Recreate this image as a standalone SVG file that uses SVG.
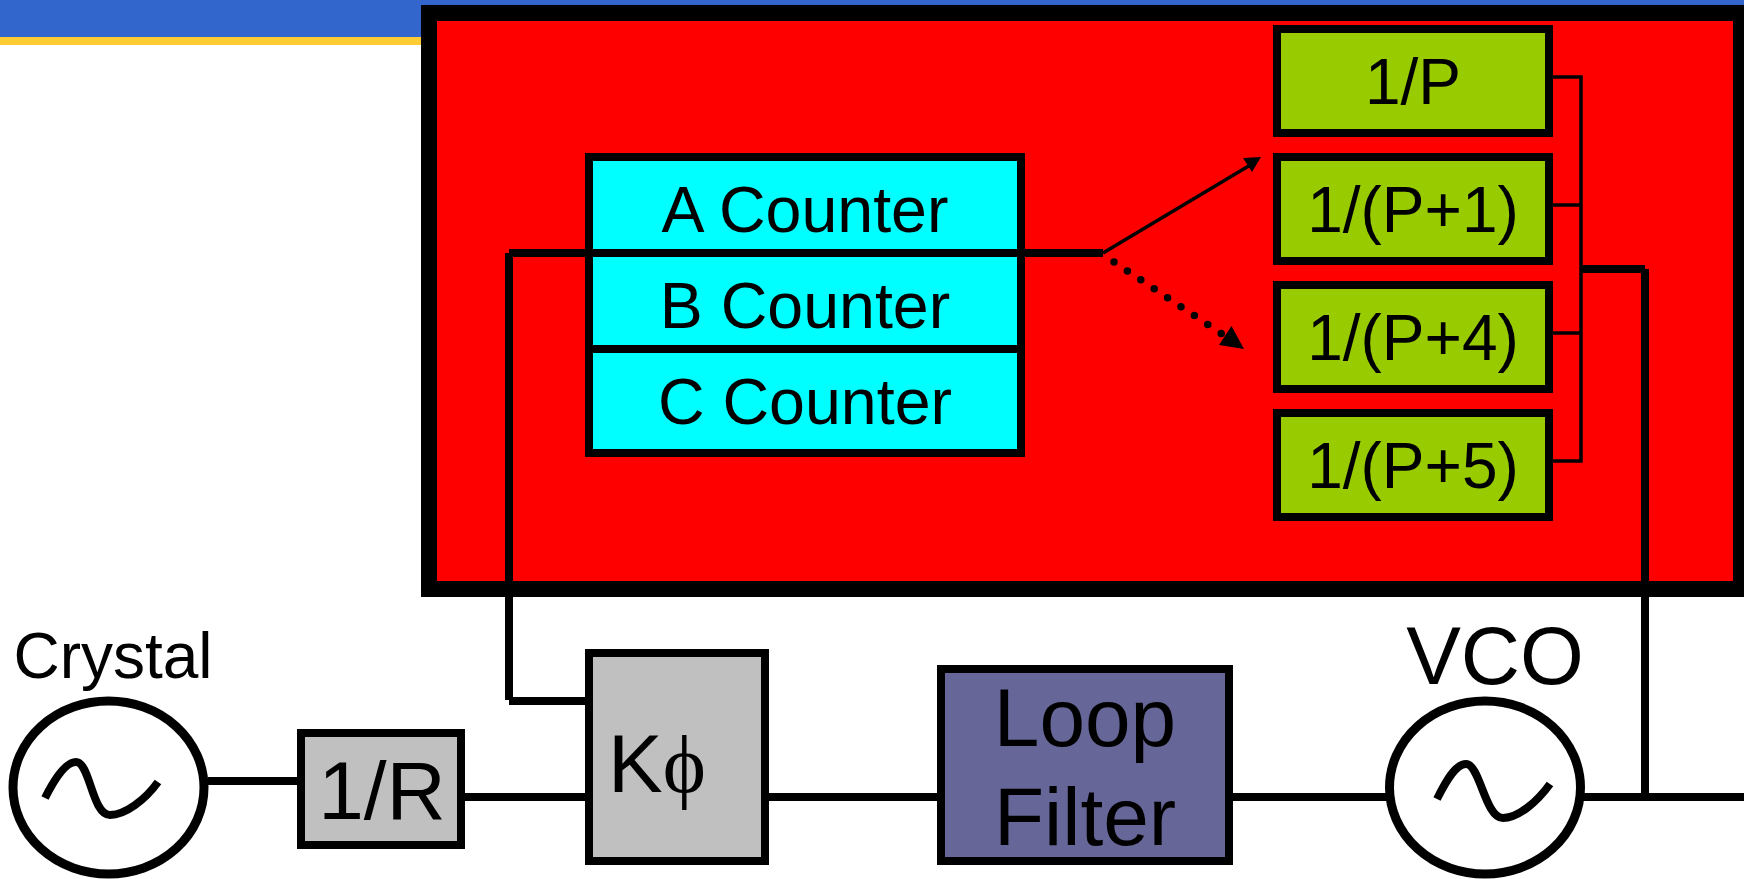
<svg xmlns="http://www.w3.org/2000/svg" width="1744" height="879" viewBox="0 0 1744 879">
<style>
text{font-family:"Liberation Sans",Arial,sans-serif;fill:#000;text-anchor:middle}
.s{font-size:64.500px}.p{font-size:64px}.l{font-size:82px}
.b{stroke:#000;stroke-width:8}
.w{fill:none;stroke:#000;stroke-width:8}
.t{fill:none;stroke:#000;stroke-width:3.5}
.g{fill:#99CC00}.c{fill:#00FFFF}.y{fill:#C0C0C0}
.e{fill:#fff;stroke:#000;stroke-width:9}
.sine{fill:none;stroke:#000;stroke-width:8}
</style>
<rect width="1744" height="879" fill="#fff"/>
<g id="header"><rect width="1744" height="37" fill="#3366CC"/><rect y="37" width="1744" height="8" fill="#FFCC33"/></g>
<g id="prescaler"><rect x="429" y="13" width="1312" height="576" fill="#FF0000" stroke="#000" stroke-width="16"/></g>
<g id="a-counter"><rect class="c b" x="589" y="157" width="432" height="96"/><text class="s" x="805" y="232">A Counter</text></g>
<g id="b-counter"><rect class="c b" x="589" y="253" width="432" height="96"/><text class="s" x="805" y="328">B Counter</text></g>
<g id="c-counter"><rect class="c b" x="589" y="349" width="432" height="104"/><text class="s" x="805" y="424">C Counter</text></g>
<g id="div-p"><rect class="g b" x="1277" y="29" width="272" height="104"/><text class="p" x="1413" y="104">1/P</text></g>
<g id="div-p1"><rect class="g b" x="1277" y="157" width="272" height="104"/><text class="p" x="1413" y="232">1/(P+1)</text></g>
<g id="div-p4"><rect class="g b" x="1277" y="285" width="272" height="104"/><text class="p" x="1413" y="360">1/(P+4)</text></g>
<g id="div-p5"><rect class="g b" x="1277" y="413" width="272" height="104"/><text class="p" x="1413" y="488">1/(P+5)</text></g>
<g id="connectors">
<path class="w" d="M1103 253H509M509 253V700M509 701H589"/>
<path d="M1103 253L1252 164" fill="none" stroke="#000" stroke-width="3.5"/>
<path d="M1261 157L1243 158L1252 172Z" fill="#000"/>
<path d="M1114 262L1222 334" fill="none" stroke="#000" stroke-width="7.5" stroke-linecap="round" stroke-dasharray="0 16.1"/>
<path d="M1244 349L1231.500 326L1219 345Z" fill="#000"/>
<path class="t" d="M1553 77H1581V461H1553M1553 205H1581M1553 333H1581"/>
<path class="w" d="M1581 269H1645M1645 269V797"/>
<path class="w" d="M208 781H301M461 797H589M765 797H941M1229 797H1390M1580 797H1744"/>
</g>
<g id="crystal"><text x="113" y="678" style="font-size:64px">Crystal</text><ellipse class="e" cx="108.500" cy="787.500" rx="95.500" ry="86.500"/><path class="sine" d="M45 798C55 778 66 762 76 762C90 762 92 815 110 815C125 815 145 800 158 782"/></g>
<g id="div-r"><rect class="y b" x="301" y="733" width="160" height="112"/><text class="l" x="382" y="819">1/R</text></g>
<g id="phase-detector"><rect class="y b" x="589" y="653" width="176" height="208"/><text x="608" y="792" style="font-size:82px;text-anchor:start">K<tspan style="font-family:'Liberation Serif',serif">ϕ</tspan></text></g>
<g id="loop-filter"><rect class="b" fill="#666699" x="941" y="669" width="288" height="192"/><text class="l" x="1085" y="746">Loop</text><text class="l" x="1085" y="845">Filter</text></g>
<g id="vco"><text class="l" x="1495" y="684">VCO</text><ellipse class="e" cx="1485" cy="787.500" rx="95.500" ry="86.500"/><path class="sine" d="M1437 799C1447 779 1456 764 1466 764C1480 764 1485 818 1503 818C1518 818 1537 802 1550 784"/></g>
</svg>
